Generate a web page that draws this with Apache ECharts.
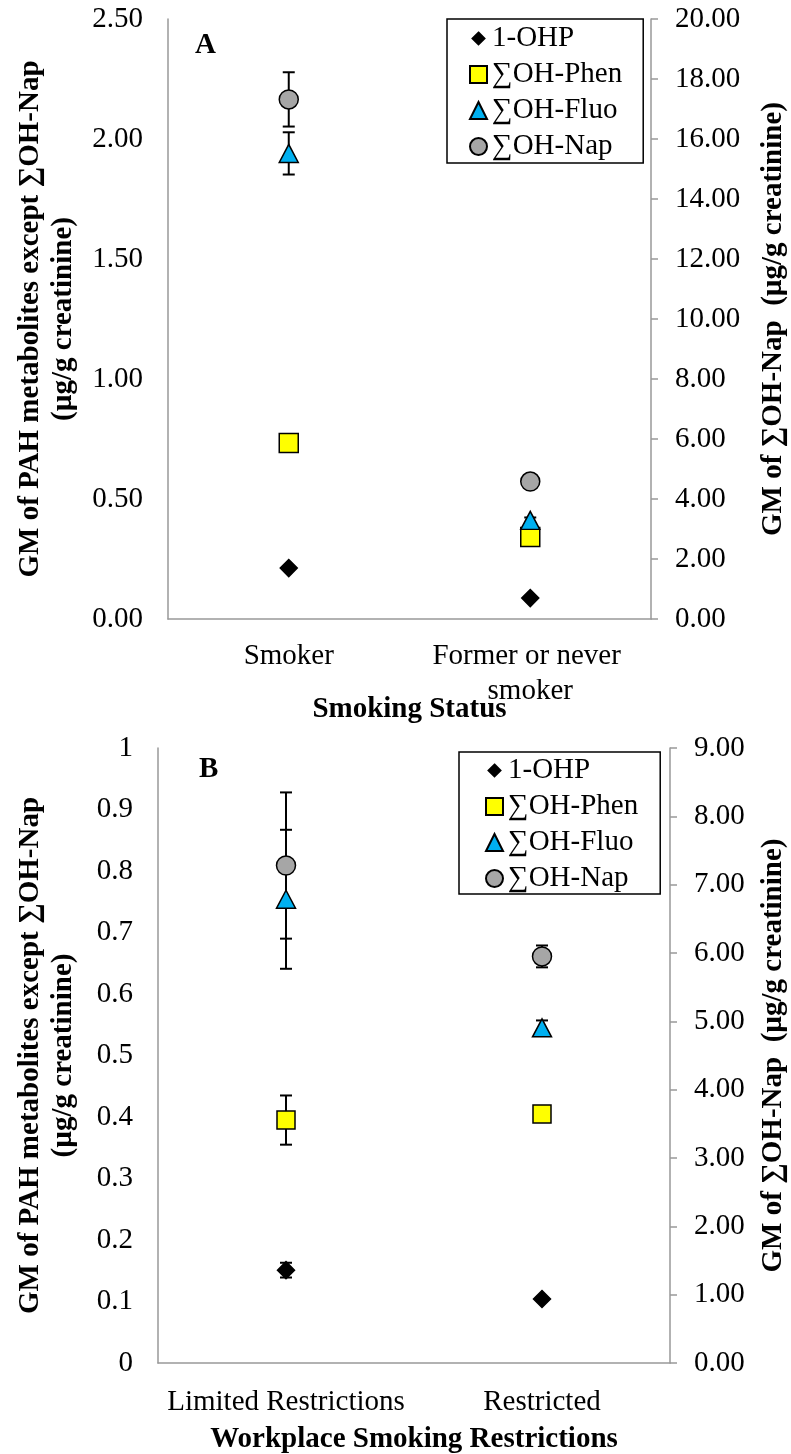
<!DOCTYPE html>
<html><head><meta charset="utf-8">
<script src="https://cdn.jsdelivr.net/npm/echarts@6/dist/echarts.min.js"></script>
<style>html,body{margin:0;padding:0;background:#fff}#c{width:791px;height:1454px}</style>
</head><body><div id="c"></div>
<script>
// ---------- data ----------
const seriesNames = ['1-OHP', '∑OH-Phen', '∑OH-Fluo', '∑OH-Nap'];

const categoriesA = ['Smoker', 'Former or never smoker'];
const ohpA  = [0.212, 0.087];
const phenA = [0.733, 0.342];
const fluoA = [1.940, 0.411];
const napA  = [17.32, 4.58];
const ohpAErr  = [0, 0];
const phenAErr = [0, 0];
const fluoAErr = [0.088, 0.012];
const napAErr  = [0.905, 0.10];

const categoriesB = ['Limited Restrictions', 'Restricted'];
const ohpB  = [0.151, 0.104];
const phenB = [0.395, 0.405];
const fluoB = [0.754, 0.545];
const napB  = [7.28, 5.95];
const ohpBErr  = [0.012, 0.003];
const phenBErr = [0.040, 0.005];
const fluoBErr = [0.113, 0.012];
const napBErr  = [1.07, 0.16];

const axisLeftA  = {min: 0, max: 2.5, interval: 0.5, decimals: 2};
const axisRightA = {min: 0, max: 20, interval: 2, decimals: 2};
const axisLeftB  = {min: 0, max: 1, interval: 0.1, decimals: -1};
const axisRightB = {min: 0, max: 9, interval: 1, decimals: 2};

const titleXA = 'Smoking Status';
const titleXB = 'Workplace Smoking Restrictions';
const titleYLeft = 'GM of PAH metabolites except ∑OH-Nap\n(µg/g creatinine)';
const titleYRight = 'GM of ∑OH-Nap  (µg/g creatinine)';

// ---------- styles ----------
const FONT = '"Liberation Serif", "Times New Roman", serif';
const AXIS_COLOR = '#999999';
const COLORS = {ohp: '#000000', phen: '#FFFF00', fluo: '#00B0F0', nap: '#A6A6A6'};
// smaller diamond icon for the legend (invisible corner points keep the box size)
const LEGEND_DIAMOND = 'path://M0,0Z M20,20Z M10,3 L17,10 L10,17 L3,10 Z';

function fmt(dec) {
  return function (v) { return dec < 0 ? String(+v.toFixed(1)) : v.toFixed(dec); };
}

function errSeries(name, vals, errs, xi, yi) {
  return {
    type: 'custom', name: name, xAxisIndex: xi, yAxisIndex: yi, z: 1, silent: true,
    data: vals.map(function (v, i) { return [i, v, errs[i]]; }),
    encode: {x: 0, y: 1},
    renderItem: function (params, api) {
      const x = api.value(0), v = api.value(1), e = api.value(2);
      if (!e) return null;
      const hi = api.coord([x, v + e]), lo = api.coord([x, v - e]);
      const cw = 6;
      const st = {stroke: '#000', lineWidth: 2};
      return {type: 'group', children: [
        {type: 'line', shape: {x1: hi[0], y1: hi[1], x2: lo[0], y2: lo[1]}, style: st},
        {type: 'line', shape: {x1: hi[0] - cw, y1: hi[1], x2: hi[0] + cw, y2: hi[1]}, style: st},
        {type: 'line', shape: {x1: lo[0] - cw, y1: lo[1], x2: lo[0] + cw, y2: lo[1]}, style: st}
      ]};
    }
  };
}

function scatter(name, vals, sym, size, color, xi, yi) {
  return {
    type: 'scatter', name: name, xAxisIndex: xi, yAxisIndex: yi, z: 3,
    symbol: sym, symbolSize: size, data: vals,
    itemStyle: {color: color, borderColor: '#000', borderWidth: 1.5, opacity: 1},
    emphasis: {disabled: true}
  };
}

function xAxisDef(gi, cats, name, gap, labelWidth, margin) {
  return {
    gridIndex: gi, type: 'category', data: cats,
    axisLine: {show: true, lineStyle: {color: AXIS_COLOR, width: 1.5}},
    axisTick: {show: false}, splitLine: {show: false},
    axisLabel: {fontFamily: FONT, fontSize: 29, color: '#000', margin: margin, interval: 0,
                width: labelWidth, overflow: 'break', lineHeight: 35},
    name: name, nameLocation: 'middle', nameGap: gap, nameMoveOverlap: false,
    nameTextStyle: {fontFamily: FONT, fontSize: 29, fontWeight: 'bold', color: '#000'}
  };
}

function yAxisDef(gi, ax, pos, name, gap) {
  const right = pos === 'right';
  return {
    gridIndex: gi, type: 'value', position: pos, min: ax.min, max: ax.max, interval: ax.interval,
    axisLine: {show: true, lineStyle: {color: AXIS_COLOR, width: 1.5}},
    axisTick: {show: right, length: 7, lineStyle: {color: AXIS_COLOR, width: 1.5}},
    splitLine: {show: false},
    axisLabel: {fontFamily: FONT, fontSize: 29, color: '#000', margin: right ? 24 : 25, formatter: fmt(ax.decimals)},
    name: name, nameLocation: 'middle', nameRotate: 90, nameGap: gap, nameMoveOverlap: false,
    nameTextStyle: {fontFamily: FONT, fontSize: 29, fontWeight: 'bold', color: '#000', lineHeight: 33}
  };
}

function legendDef(left, top, padding) {
  return {
    left: left, top: top, orient: 'vertical', selectedMode: false,
    data: seriesNames.map(function (n, i) { return i === 0 ? {name: n, icon: LEGEND_DIAMOND} : {name: n}; }),
    itemWidth: 17, itemHeight: 17, itemGap: 7, padding: padding,
    borderColor: '#000', borderWidth: 1.5, backgroundColor: '#fff',
    textStyle: {fontFamily: FONT, fontSize: 29, color: '#000'}
  };
}

const chart = echarts.init(document.getElementById('c'));
chart.setOption({
  animation: false,
  backgroundColor: '#fff',
  title: [
    {text: 'A', left: 195, top: 31, padding: 0, textStyle: {fontFamily: FONT, fontSize: 29, fontWeight: 'bold', color: '#000'}},
    {text: 'B', left: 199, top: 755, padding: 0, textStyle: {fontFamily: FONT, fontSize: 29, fontWeight: 'bold', color: '#000'}}
  ],
  legend: [legendDef(447, 19, [5, 21, 2, 22]), legendDef(459, 752, [4, 22, 1, 26])],
  grid: [
    {left: 168, top: 19, width: 483, height: 600, containLabel: false, outerBoundsMode: 'none'},
    {left: 158, top: 748, width: 512, height: 615, containLabel: false, outerBoundsMode: 'none'}
  ],
  xAxis: [
    xAxisDef(0, categoriesA, titleXA, 76, 240, 20),
    xAxisDef(1, categoriesB, titleXB, 62, 255, 22)
  ],
  yAxis: [
    yAxisDef(0, axisLeftA, 'left', titleYLeft, 88),
    yAxisDef(0, axisRightA, 'right', titleYRight, 106),
    yAxisDef(1, axisLeftB, 'left', titleYLeft, 78),
    yAxisDef(1, axisRightB, 'right', titleYRight, 87)
  ],
  series: [
    errSeries('errOhpA', ohpA, ohpAErr, 0, 0),
    errSeries('errPhenA', phenA, phenAErr, 0, 0),
    errSeries('errFluoA', fluoA, fluoAErr, 0, 0),
    errSeries('errNapA', napA, napAErr, 0, 1),
    scatter(seriesNames[0], ohpA, 'diamond', 17, COLORS.ohp, 0, 0),
    scatter(seriesNames[1], phenA, 'rect', 19, COLORS.phen, 0, 0),
    scatter(seriesNames[2], fluoA, 'triangle', [19, 18], COLORS.fluo, 0, 0),
    scatter(seriesNames[3], napA, 'circle', 19, COLORS.nap, 0, 1),

    errSeries('errOhpB', ohpB, ohpBErr, 1, 2),
    errSeries('errPhenB', phenB, phenBErr, 1, 2),
    errSeries('errFluoB', fluoB, fluoBErr, 1, 2),
    errSeries('errNapB', napB, napBErr, 1, 3),
    scatter(seriesNames[0], ohpB, 'diamond', 17, COLORS.ohp, 1, 2),
    scatter(seriesNames[1], phenB, 'rect', 18, COLORS.phen, 1, 2),
    scatter(seriesNames[2], fluoB, 'triangle', [19, 18], COLORS.fluo, 1, 2),
    scatter(seriesNames[3], napB, 'circle', 19, COLORS.nap, 1, 3)
  ]
});
</script>
</body></html>
